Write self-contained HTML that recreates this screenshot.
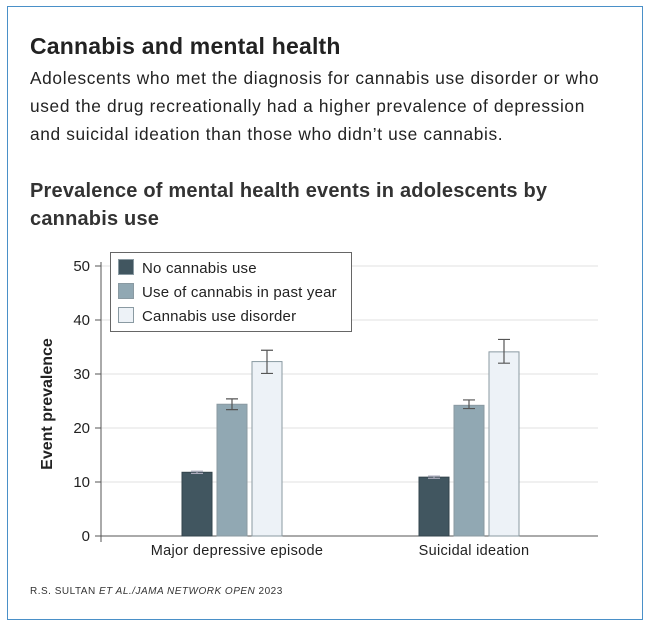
<!DOCTYPE html>
<html><head><meta charset="utf-8"><style>
body{margin:0;background:#fff;font-family:"Liberation Sans",sans-serif;}
#frame{position:absolute;left:7px;top:6px;width:636px;height:614px;border:1px solid #4a90c8;box-sizing:border-box;}
h1{position:absolute;left:30px;top:33px;margin:0;font-size:23px;font-weight:bold;color:#222;letter-spacing:0.2px;}
p.sub{position:absolute;left:30px;top:64px;margin:0;white-space:nowrap;font-size:17.3px;line-height:28px;color:#222;letter-spacing:0.65px;}
h2{position:absolute;left:30px;top:177px;margin:0;font-size:20px;line-height:28px;font-weight:bold;color:#333;width:560px;letter-spacing:0.2px;}
.src{position:absolute;left:30px;top:586px;font-size:10px;color:#333;letter-spacing:0.5px;}
svg{position:absolute;left:0;top:0;}
</style></head><body>
<div id="frame"></div>
<h1>Cannabis and mental health</h1>
<p class="sub">Adolescents who met the diagnosis for cannabis use disorder or who<br>used the drug recreationally had a higher prevalence of depression<br>and suicidal ideation than those who didn’t use cannabis.</p>
<h2>Prevalence of mental health events in adolescents by cannabis use</h2>
<div class="src">R.S. SULTAN <i>ET AL./JAMA NETWORK OPEN</i> 2023</div>
<svg id="chart" width="651" height="627"></svg>
<script>
const categories=["Major depressive episode","Suicidal ideation"];
const seriesNames=["No cannabis use","Use of cannabis in past year","Cannabis use disorder"];
const noUse=[11.8,10.9];
const pastYear=[24.4,24.2];
const disorder=[32.3,34.1];
const noUseErr=[[11.6,12.0],[10.7,11.1]];
const pastYearErr=[[23.4,25.4],[23.6,25.2]];
const disorderErr=[[30.1,34.4],[32.0,36.4]];
const yTicks=[0,10,20,30,40,50];
const series=[noUse,pastYear,disorder];
const errs=[noUseErr,pastYearErr,disorderErr];
const colors=["#415660","#91a8b3","#edf2f7"];
const NS="http://www.w3.org/2000/svg";
const svg=document.getElementById('chart');
const y=v=>536-v*5.4;
const groupX=i=>232+i*237;
const barW=30,gap=5;
function mk(t,a,p){const e=document.createElementNS(NS,t);for(const k in a)e.setAttribute(k,a[k]);(p||svg).appendChild(e);return e;}
yTicks.forEach(t=>{
 if(t>0){const g=mk('line',{x1:101,x2:598,y1:y(t),y2:y(t),stroke:'#e2e2e2','stroke-width':1});
 
 }
 const tk=mk('line',{x1:95,x2:101,y1:y(t),y2:y(t),stroke:'#555'});
 
 
 const tx=mk('text',{x:90,y:y(t)+5,'text-anchor':'end','font-size':15,fill:'#222'});tx.textContent=t;
 
 
});
const ya=mk('line',{x1:101,x2:101,y1:262,y2:542,stroke:'#555'});


const xa=mk('line',{x1:95,x2:598,y1:536,y2:536,stroke:'#555'});


const yt=mk('text',{transform:'translate(52,404) rotate(-90)','text-anchor':'middle','font-size':16,'font-weight':'bold',fill:'#222'});yt.textContent='Event prevalence';


categories.forEach((c,i)=>{
 const lab=mk('text',{x:groupX(i)+5,y:555,'text-anchor':'middle','font-size':14.5,fill:'#222','letter-spacing':0.3});lab.textContent=c;
 
 
 series.forEach((s,j)=>{
  const x0=groupX(i)-barW*1.5-gap+j*(barW+gap);
  const r=mk('rect',{x:x0,y:y(s[i]),width:barW,height:y(0)-y(s[i]),fill:colors[j],stroke:j==0?'#33444c':'#8a9aa2','stroke-width':1});
  
  
  const e=errs[j][i],cx=x0+barW/2;
  const eb=mk('path',{d:`M${cx-6},${y(e[0])}H${cx+6}M${cx},${y(e[0])}V${y(e[1])}M${cx-6},${y(e[1])}H${cx+6}`,stroke:j==0?'#aab':'#555',fill:'none','stroke-width':1.2});
  
  
 });
});
const lg=mk('rect',{x:110.5,y:252.5,width:241,height:79,fill:'#fff',stroke:'#666'});


seriesNames.forEach((n,j)=>{
 const sw=mk('rect',{x:118.5,y:259.5+j*24,width:15,height:15,fill:colors[j],stroke:'#8a9aa2'});
 
 
 const t=mk('text',{x:142,y:273+j*24,'font-size':15,fill:'#222','letter-spacing':0.2});t.textContent=n;
 
 
});
</script>
</body></html>
